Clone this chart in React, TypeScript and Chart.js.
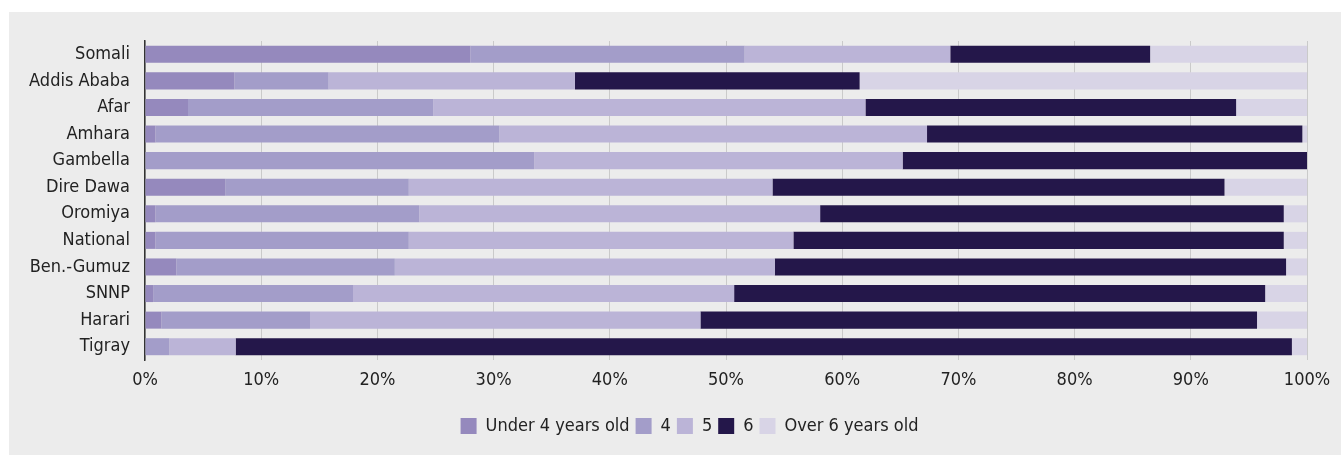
import React, { useEffect, useRef } from "react";
import { Chart, registerables } from "chart.js";

Chart.register(...registerables);

const categories = [
  "Somali",
  "Addis Ababa",
  "Afar",
  "Amhara",
  "Gambella",
  "Dire Dawa",
  "Oromiya",
  "National",
  "Ben.-Gumuz",
  "SNNP",
  "Harari",
  "Tigray",
];

const seriesNames = ["Under 4 years old", "4", "5", "6", "Over 6 years old"];

const under4 = [28.0, 7.7, 3.7, 0.9, 0, 6.9, 0.9, 0.9, 2.7, 0.7, 1.4, 0];
const age4 = [23.6, 8.1, 21.1, 29.6, 33.5, 15.8, 22.7, 21.8, 18.8, 17.2, 12.8, 2.1];
const age5 = [17.7, 21.2, 37.2, 36.8, 31.7, 31.3, 34.5, 33.1, 32.7, 32.8, 33.6, 5.7];
const age6 = [17.2, 24.5, 31.9, 32.3, 34.8, 38.9, 39.9, 42.2, 44.0, 45.7, 47.9, 90.9];
const over6 = [13.5, 38.5, 6.1, 0.4, 0, 7.1, 2.0, 2.0, 1.8, 3.6, 4.3, 1.3];

const seriesColors = ["#9589bd", "#a39dc9", "#bbb4d7", "#24174a", "#d8d4e6"];

const xTickValues = [0, 10, 20, 30, 40, 50, 60, 70, 80, 90, 100];

const FONT = "'Liberation Sans Narrow', 'DejaVu Sans', sans-serif";
const FONT_STYLE = { family: FONT, size: 18, weight: "condensed" as any };

const legendShift = {
  id: "legendShift",
  afterLayout(chart: any) {
    const lg = chart.legend;
    if (lg) {
      lg.left += 31.5;
      lg.right += 31.5;
    }
  },
};

export default function App() {
  const canvasRef = useRef<HTMLCanvasElement | null>(null);

  useEffect(() => {
    if (!canvasRef.current) return;
    const values = [under4, age4, age5, age6, over6];
    const chart = new Chart(canvasRef.current, {
      type: "bar",
      data: {
        labels: categories,
        datasets: seriesNames.map((name, i) => ({
          label: name,
          data: values[i],
          backgroundColor: seriesColors[i],
          borderWidth: 0,
          barPercentage: 0.64,
          categoryPercentage: 1,
        })),
      },
      plugins: [legendShift],
      options: {
        indexAxis: "y",
        responsive: false,
        animation: false,
        devicePixelRatio: 1,
        layout: { padding: { top: 29, left: 0, right: 34, bottom: 10 } },
        plugins: {
          tooltip: { enabled: false },
          legend: {
            position: "bottom",
            labels: {
              boxWidth: 16,
              boxHeight: 16,
              padding: 6,
              color: "#222",
              font: FONT_STYLE,
            },
          },
        },
        scales: {
          x: {
            stacked: true,
            min: 0,
            max: 100,
            z: 1,
            afterBuildTicks: (scale: any) => {
              scale.ticks = xTickValues.map((v) => ({ value: v }));
            },
            afterFit: (scale: any) => {
              scale.height = 51;
            },
            grid: {
              color: "rgba(0,0,0,0.14)",
              lineWidth: 1,
              drawTicks: false,
            },
            border: { display: false },
            ticks: {
              padding: 10,
              color: "#222",
              maxRotation: 0,
              autoSkip: false,
              font: FONT_STYLE,
              callback: (v: any) => `${v}%`,
            },
          },
          y: {
            stacked: true,
            z: 1,
            afterFit: (scale: any) => {
              scale.width = 136;
            },
            grid: { display: false, drawTicks: false },
            border: { display: true, color: "#333", width: 1.5 },
            ticks: {
              padding: 15,
              color: "#222",
              autoSkip: false,
              font: FONT_STYLE,
            },
          },
        },
      },
    });
    return () => chart.destroy();
  }, []);

  return (
    <div
      style={{
        position: "absolute",
        left: 9,
        top: 12,
        width: 1332,
        height: 443,
        background: "#ececec",
      }}
    >
      <canvas
        ref={canvasRef}
        width={1332}
        height={443}
        style={{ display: "block", width: 1332, height: 443 }}
      />
    </div>
  );
}
